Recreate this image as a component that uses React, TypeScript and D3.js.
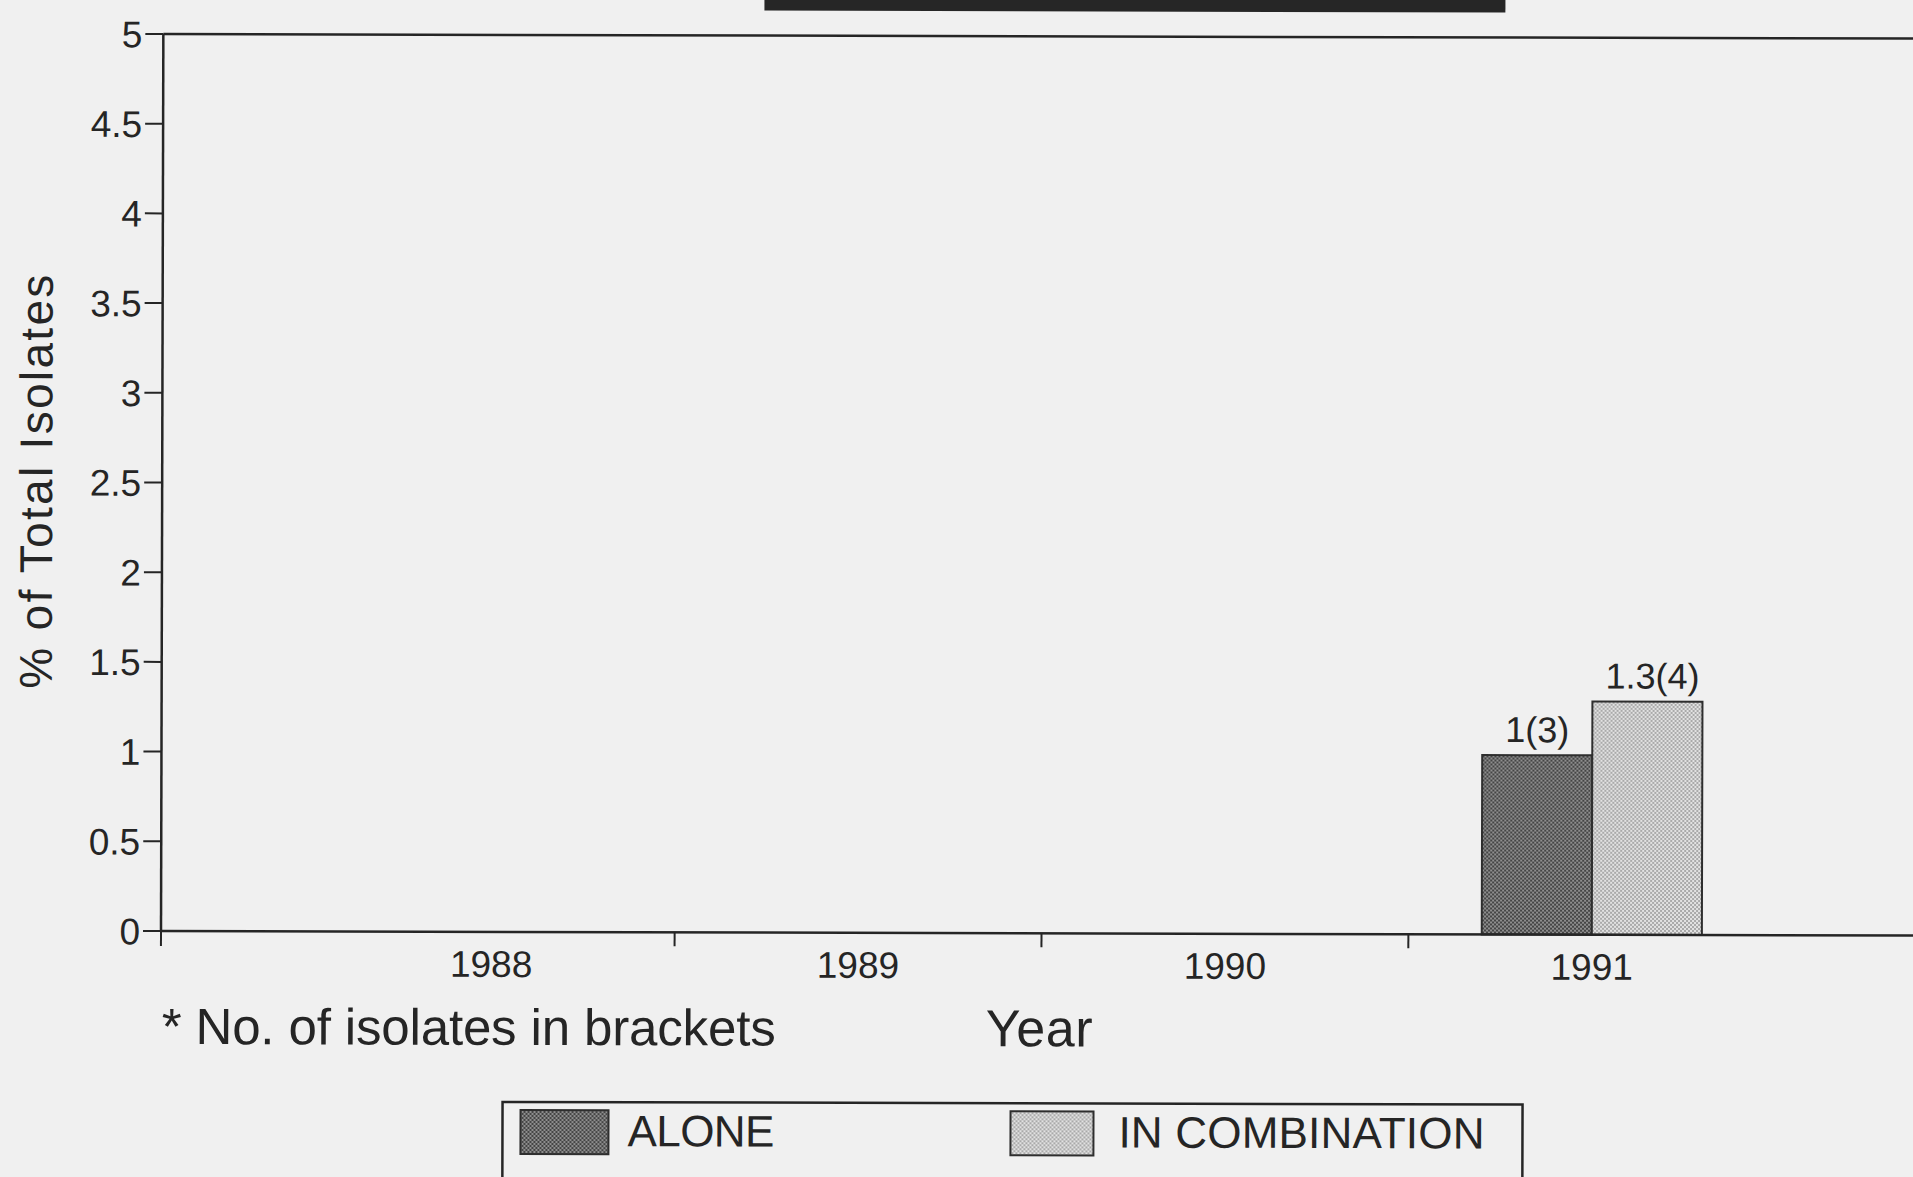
import React from "react";
import * as d3 from "d3";

// Resistance pattern by year: share of total isolates (%), with isolate counts
const years = ["1988", "1989", "1990", "1991"];
const seriesNames = ["ALONE", "IN COMBINATION"];
const aloneValues = [0, 0, 0, 1];
const comboValues = [0, 0, 0, 1.3];
const aloneCounts = [0, 0, 0, 3];
const comboCounts = [0, 0, 0, 4];
const yTicks = [0, 0.5, 1, 1.5, 2, 2.5, 3, 3.5, 4, 4.5, 5];

const W = 1913;
const H = 1177;
const FONT = "'Liberation Sans', Arial, Helvetica, sans-serif";
const INK = "#252525";

export default function App() {
  const x0 = d3
    .scaleBand<string>()
    .domain(years)
    .range([161, 1922])
    .paddingInner(0)
    .paddingOuter(0.4);
  const bw = x0.bandwidth();
  const x1 = d3
    .scaleBand<string>()
    .domain(seriesNames)
    .range([0.2 * bw, 0.8 * bw]);
  const y = d3.scaleLinear().domain([0, 5]).range([931, 34]);

  const rows = years.map((yr, i) => ({
    year: yr,
    values: [
      { key: seriesNames[0], v: aloneValues[i], n: aloneCounts[i], fill: "url(#patAlone)" },
      { key: seriesNames[1], v: comboValues[i], n: comboCounts[i], fill: "url(#patCombo)" },
    ],
  }));

  const xLeft = x0.range()[0];
  const xRight = x0.range()[1];
  // tick marks sit between categories, plus one at the origin
  const boundaries = years.slice(1).map((yr) => x0(yr) as number);

  return (
    <svg
      width={W}
      height={H}
      style={{ position: "absolute", left: 0, top: 0, display: "block" }}
      fontFamily={FONT}
    >
      <defs>
        <pattern id="patAlone" width={4} height={4} patternUnits="userSpaceOnUse">
          <rect width={4} height={4} fill="#444" />
          <rect x={0} y={0} width={2} height={2} fill="#8e8e8e" />
          <rect x={2} y={2} width={2} height={2} fill="#8e8e8e" />
        </pattern>
        <pattern id="patCombo" width={4} height={4} patternUnits="userSpaceOnUse">
          <rect width={4} height={4} fill="#a9a9a9" />
          <rect x={0} y={0} width={2} height={2} fill="#e2e2e2" />
          <rect x={2} y={2} width={2} height={2} fill="#e2e2e2" />
        </pattern>
      </defs>
      <rect width={W} height={H} fill="#f0f0f0" />

      <g transform={`rotate(0.15, ${xLeft}, ${y(0)})`}>
        {/* dark band at the top edge */}
        <rect x={762} y={-4} width={741} height={13} fill="#262626" />

        {/* frame line at the top of the value range */}
        <line x1={xLeft} x2={W + 20} y1={y(5)} y2={y(5)} stroke={INK} strokeWidth={2.5} />

        {/* y axis */}
        <line x1={xLeft} x2={xLeft} y1={y(0)} y2={y(5)} stroke={INK} strokeWidth={2.5} />
        {yTicks.map((t) => (
          <g key={t}>
            <line x1={xLeft - 18} x2={xLeft} y1={y(t)} y2={y(t)} stroke={INK} strokeWidth={2} />
            <text
              x={xLeft - 21}
              y={y(t)}
              dy="0.36em"
              textAnchor="end"
              fontSize={37}
              fill={INK}
            >
              {String(t)}
            </text>
          </g>
        ))}
        <text
          transform={`translate(51, 482) rotate(-90)`}
          textAnchor="middle"
          fontSize={46}
          fill={INK}
          textLength={414}
          lengthAdjust="spacing"
        >
          % of Total Isolates
        </text>

        {/* bars */}
        {rows.map((r) =>
          r.values.map((d) =>
            d.v > 0 ? (
              <g key={r.year + d.key}>
                <rect
                  x={(x0(r.year) as number) + (x1(d.key) as number)}
                  y={y(d.v)}
                  width={x1.bandwidth()}
                  height={y(0) - y(d.v)}
                  fill={d.fill}
                  stroke="#2e2e2e"
                  strokeWidth={2}
                />
                <text
                  x={(x0(r.year) as number) + (x1(d.key) as number) + x1.bandwidth() / 2 + (d.key === seriesNames[1] ? 5 : 0)}
                  y={y(d.v) - 13}
                  textAnchor="middle"
                  fontSize={36}
                  fill={INK}
                >
                  {`${d.v}(${d.n})`}
                </text>
              </g>
            ) : null
          )
        )}

        {/* x axis */}
        <line x1={xLeft} x2={xRight} y1={y(0)} y2={y(0)} stroke={INK} strokeWidth={2.5} />
        <line x1={xLeft} x2={xLeft} y1={y(0)} y2={y(0) + 15} stroke={INK} strokeWidth={2} />
        {boundaries.map((bx) => (
          <line key={bx} x1={bx} x2={bx} y1={y(0)} y2={y(0) + 14} stroke={INK} strokeWidth={2} />
        ))}
        {years.map((yr) => (
          <text
            key={yr}
            x={(x0(yr) as number) + bw / 2}
            y={976}
            textAnchor="middle"
            fontSize={37}
            fill={INK}
          >
            {yr}
          </text>
        ))}

        <text x={162} y={1044} fontSize={51} fill={INK} textLength={614} lengthAdjust="spacing">
          * No. of isolates in brackets
        </text>
        <text x={986} y={1044} fontSize={52} fill={INK} textLength={107} lengthAdjust="spacing">
          Year
        </text>

        {/* legend */}
        <rect x={503} y={1101} width={1020} height={110} fill="none" stroke={INK} strokeWidth={2.5} />
        <rect x={521} y={1109} width={88} height={44} fill="url(#patAlone)" stroke="#2e2e2e" strokeWidth={2} />
        <text x={628} y={1145} fontSize={44} fill={INK} textLength={147} lengthAdjust="spacing">
          {seriesNames[0]}
        </text>
        <rect x={1011} y={1109} width={83} height={44} fill="url(#patCombo)" stroke="#2e2e2e" strokeWidth={2} />
        <text x={1119} y={1145} fontSize={44} fill={INK} textLength={366} lengthAdjust="spacing">
          {seriesNames[1]}
        </text>
      </g>
    </svg>
  );
}
